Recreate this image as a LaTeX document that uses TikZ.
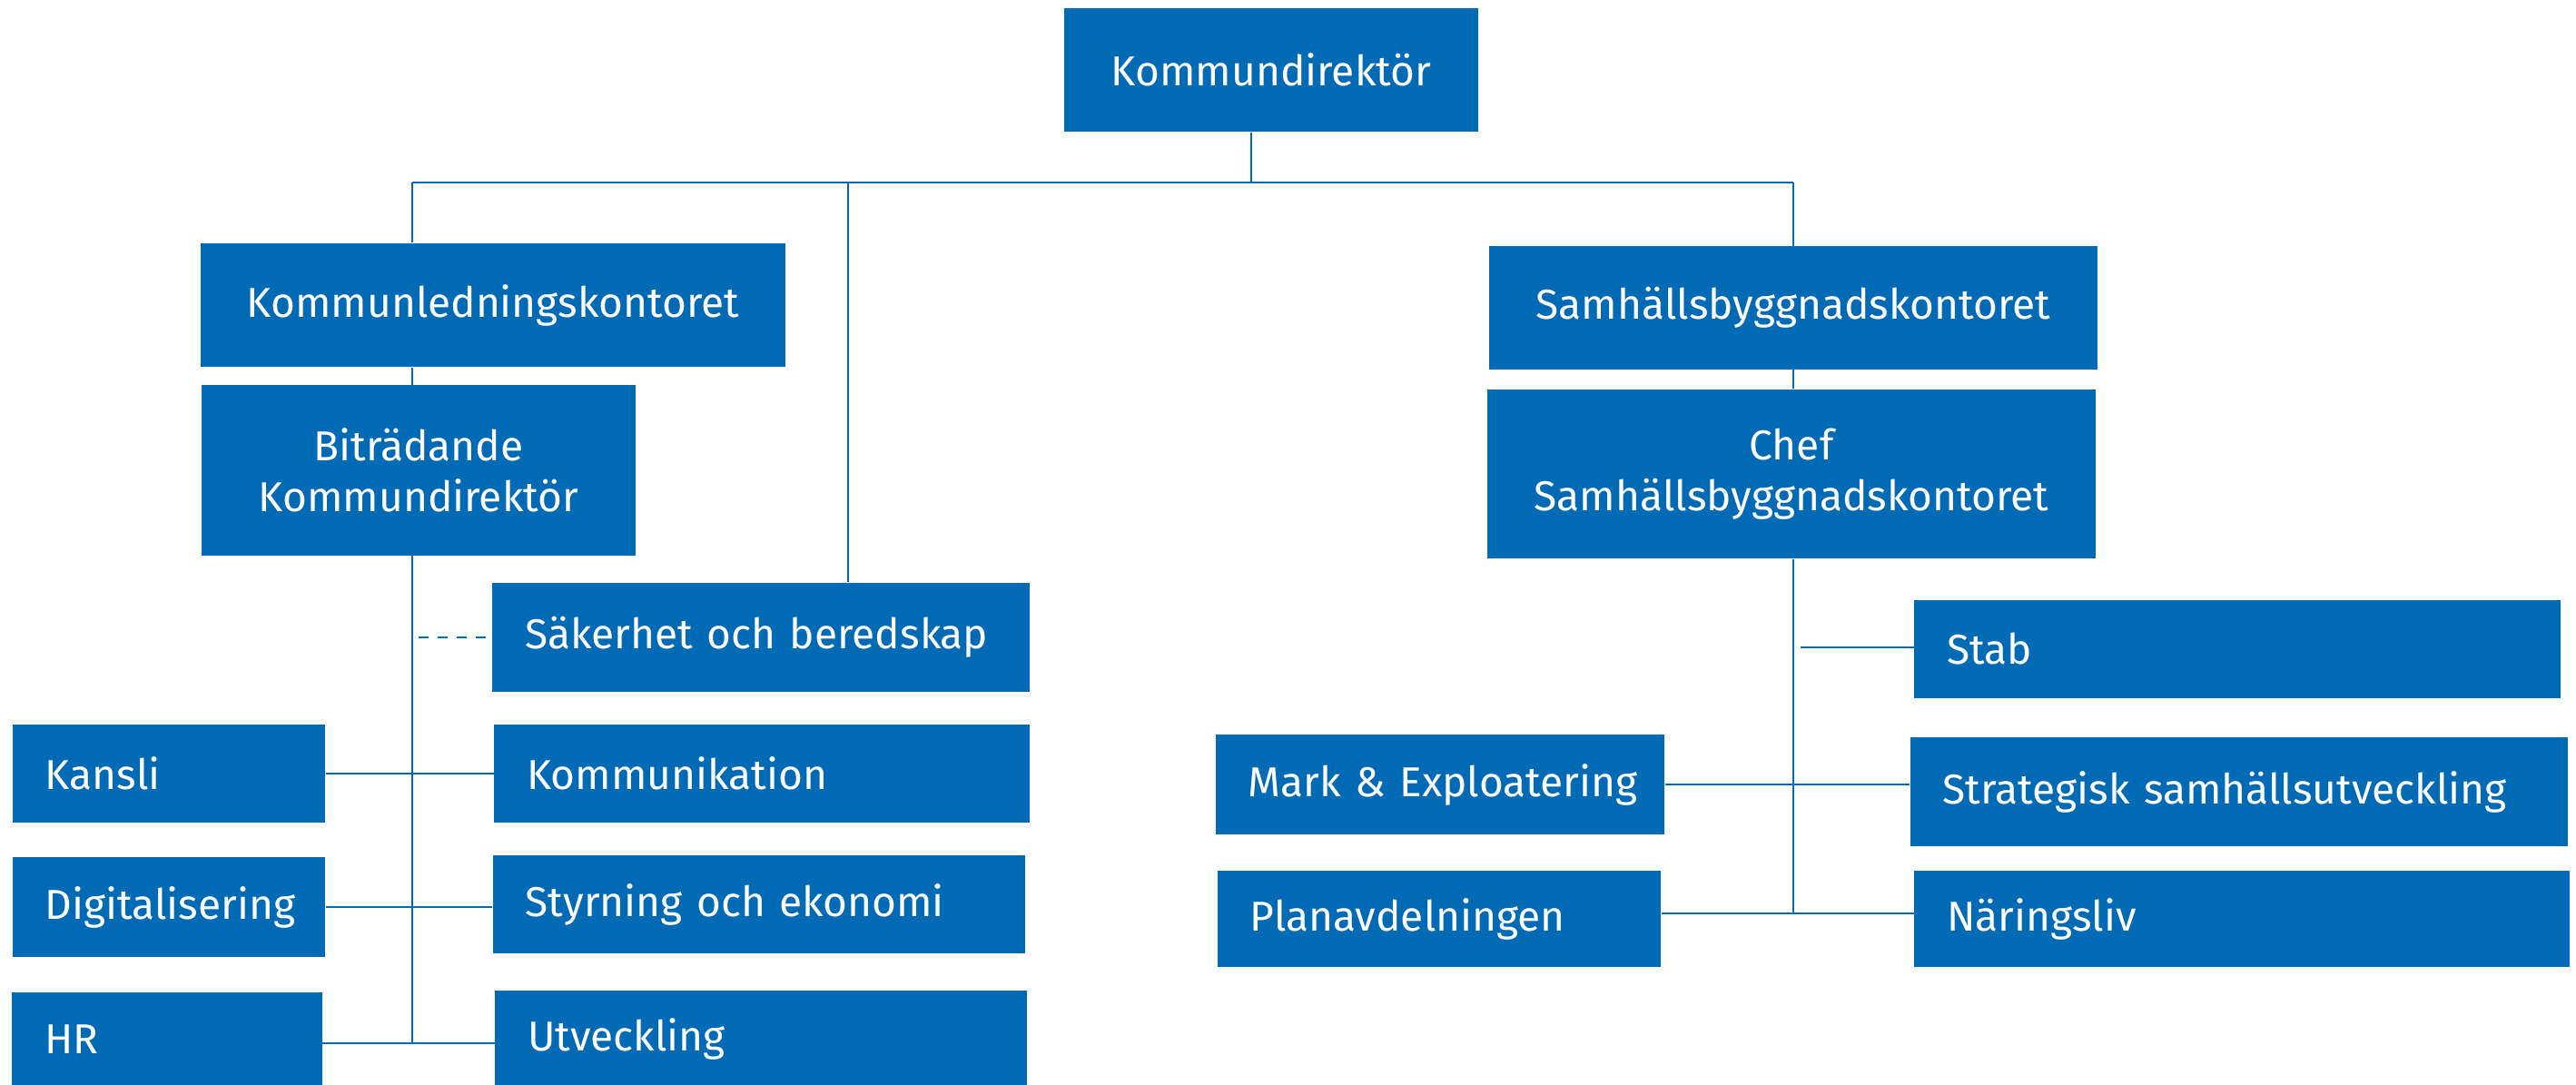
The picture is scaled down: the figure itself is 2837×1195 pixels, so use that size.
\documentclass[tikz,border=0pt]{standalone}
\usepackage{fontspec}
\setmainfont{Fira Sans}
\usepackage{tikz}
\usetikzlibrary{positioning}
\definecolor{kblue}{HTML}{006AB5}

\begin{document}
\begin{tikzpicture}[x=0.01cm, y=-0.01cm]
      \tikzstyle{box} = [
        rectangle,
        fill=kblue,
        text=white,
        font=\fontsize{13.1}{16}\selectfont,
        inner sep = 0pt
      ]

      \tikzstyle{head} = [
        box,
        align=center
      ]

      \tikzstyle{unit} = [
        box,
        align=left,
        inner xsep = 3.6mm
      ]

      \tikzstyle{link} = [
        draw=kblue,
        line width=0.6pt
      ]

      \useasboundingbox (0,0) rectangle (2837,1195);

      \node[head, minimum width=45.6mm, minimum height=13.6mm] (kd) at (1400,77) {Kommundirektör};
      \node[head, minimum width=64.4mm, minimum height=13.6mm] (klk) at (543,336) {Kommunledningskontoret};
      \node[head, minimum width=47.8mm, minimum height=18.7mm] (bitr) at (461,518) {Biträdande\\Kommundirektör};
      \node[unit, text width=51.9mm, minimum height=12mm] (sak) at (838,702) {Säkerhet och beredskap};
      \node[unit, text width=27.2mm, minimum height=10.7mm] (kansli) at (186,852) {Kansli};
      \node[unit, text width=51.7mm, minimum height=10.7mm] (komm) at (839,852) {Kommunikation};
      \node[unit, text width=27.2mm, minimum height=10.9mm] (digi) at (186,999) {Digitalisering};
      \node[unit, text width=51.4mm, minimum height=10.8mm] (styr) at (836,996) {Styrning och ekonomi};
      \node[unit, text width=26.9mm, minimum height=10.4mm] (hr) at (184,1145) {HR};
      \node[unit, text width=51.3mm, minimum height=10.6mm] (utv) at (838,1144) {Utveckling};

      \node[head, minimum width=66.9mm, minimum height=13.5mm] (sbk) at (1975,339) {Samhällsbyggnadskontoret};
      \node[head, minimum width=66.9mm, minimum height=18.6mm] (chef) at (1973,522) {Chef\\Samhällsbyggnadskontoret};
      \node[unit, text width=63.9mm, minimum height=10.8mm] (stab) at (2464,715) {Stab};
      \node[unit, text width=42.2mm, minimum height=11mm] (mark) at (1586,864) {\mbox{Mark \& Exploatering}};
      \node[unit, text width=65.2mm, minimum height=12mm] (strat) at (2466,872) {Strategisk samhällsutveckling};
      \node[unit, text width=41.6mm, minimum height=10.5mm] (plan) at (1585,1012) {Planavdelningen};
      \node[unit, text width=64.9mm, minimum height=10.5mm] (nar) at (2469,1012) {Näringsliv};

      \coordinate (busL) at (454,201);
      \coordinate (busM) at (1378,201);
      \coordinate (busS) at (934,201);
      \coordinate (busR) at (1975,201);
      \coordinate (spineL) at (454,1149);
      \coordinate (spineR) at (1975,1006);
      \coordinate (stabJ) at (1983,713);

      \draw[link] (busM |- kd.south) -- (busM);
      \draw[link] (busL) -- (busR);
      \draw[link] (busL) -- (busL |- klk.north);
      \draw[link] (busL |- klk.south) -- (busL |- bitr.north);
      \draw[link] (busL |- bitr.south) -- (spineL);
      \draw[link] (busS) -- (busS |- sak.north);
      \draw[link] (busR) -- (busR |- sbk.north);
      \draw[link, dashed] (busL |- sak.west) ++(7,0) -- (sak.west);
      \draw[link] (kansli.east) -- (komm.west);
      \draw[link] (digi.east) -- (digi.east -| styr.west);
      \draw[link] (hr.east |- spineL) -- (utv.west |- spineL);

      \draw[link] (busR |- sbk.south) -- (busR |- chef.north);
      \draw[link] (busR |- chef.south) -- (spineR);
      \draw[link] (stabJ) -- (stabJ -| stab.west);
      \draw[link] (mark.east) -- (mark.east -| strat.west);
      \draw[link] (plan.east |- spineR) -- (nar.west |- spineR);
    \end{tikzpicture}
\end{document}
